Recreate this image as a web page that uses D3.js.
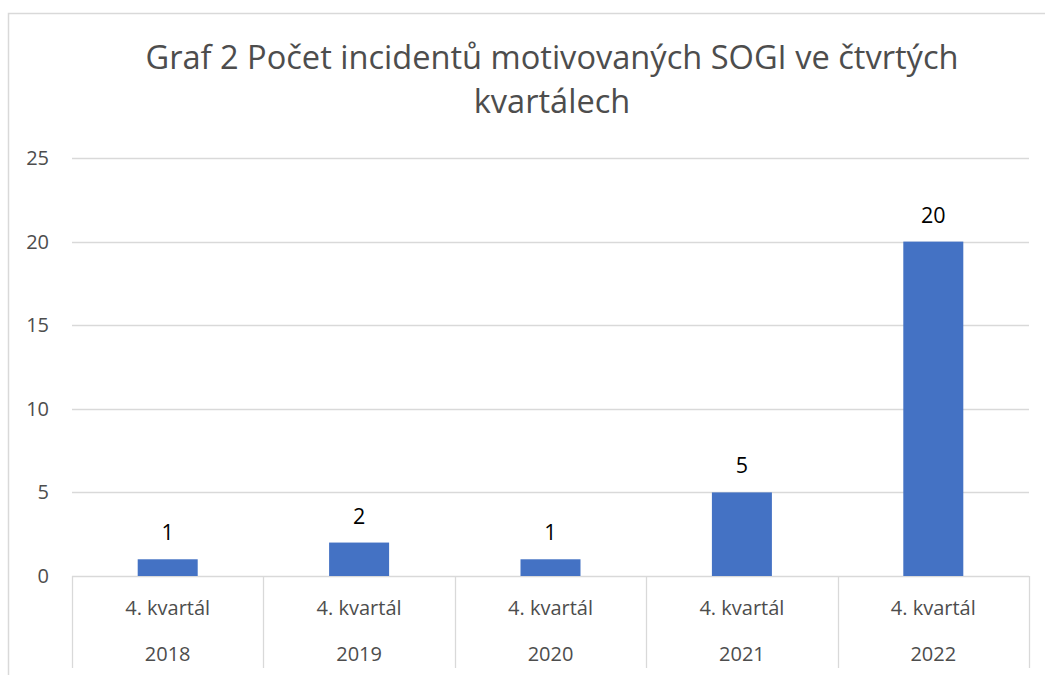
<!DOCTYPE html>
<html><head><meta charset="utf-8">
<script src="https://cdn.jsdelivr.net/npm/d3@7"></script>
<style>body{margin:0;background:#fff}svg{display:block}text{font-family:"Open Sans",sans-serif}</style>
</head><body><div id="c"></div>
<script>
const quarters = ["4. kvartál","4. kvartál","4. kvartál","4. kvartál","4. kvartál"];
const years = ["2018","2019","2020","2021","2022"];
const values = [1,2,1,5,20];
const yTicks = [0,5,10,15,20,25];
const titleLines = ["Graf 2 Počet incidentů motivovaných SOGI ve čtvrtých","kvartálech"];

const W=1045,H=675;
const svg=d3.select("#c").append("svg").attr("width",W).attr("height",H);
svg.append("rect").attr("x",8.5).attr("y",13.5).attr("width",1100).attr("height",700)
  .attr("fill","#fff").attr("stroke","#d9d9d9").attr("stroke-width",1.5);

const x=d3.scaleBand().domain(years).range([72,1029]).paddingInner(0).paddingOuter(0);
const y=d3.scaleLinear().domain([0,25]).range([576,158]);

svg.append("g").selectAll("line").data(yTicks).join("line")
  .attr("x1",72).attr("x2",1029).attr("y1",d=>Math.round(y(d))+0.5).attr("y2",d=>Math.round(y(d))+0.5)
  .attr("stroke","#d9d9d9").attr("stroke-width",1.3);

svg.append("g").selectAll("text").data(yTicks).join("text")
  .attr("x",49).attr("y",d=>y(d)+7).attr("text-anchor","end")
  .attr("fill","#4d4d4d").attr("font-size",20).text(d=>d);

const bw=60;
svg.append("g").selectAll("rect").data(values).join("rect")
  .attr("x",(d,i)=>x(years[i])+x.bandwidth()/2-bw/2).attr("width",bw)
  .attr("y",d=>y(d)).attr("height",d=>y(0)-y(d)).attr("fill","#4472c4");

svg.append("g").selectAll("text").data(values).join("text")
  .attr("x",(d,i)=>x(years[i])+x.bandwidth()/2).attr("y",d=>y(d)-19)
  .attr("text-anchor","middle").attr("fill","#000").attr("font-size",21.5).text(d=>d);

const seps=years.map(d=>x(d)).concat([x.range()[1]]);
svg.append("g").selectAll("line").data(seps).join("line")
  .attr("x1",d=>Math.round(d)+0.5).attr("x2",d=>Math.round(d)+0.5).attr("y1",576).attr("y2",668)
  .attr("stroke","#d9d9d9").attr("stroke-width",1.3);

svg.append("g").selectAll("text").data(quarters).join("text")
  .attr("x",(d,i)=>x(years[i])+x.bandwidth()/2).attr("y",615)
  .attr("text-anchor","middle").attr("fill","#4d4d4d").attr("font-size",20).text(d=>d);
svg.append("g").selectAll("text").data(years).join("text")
  .attr("x",d=>x(d)+x.bandwidth()/2).attr("y",661)
  .attr("text-anchor","middle").attr("fill","#4d4d4d").attr("font-size",20).text(d=>d);

svg.append("g").selectAll("text").data(titleLines).join("text")
  .attr("x",552).attr("y",(d,i)=>69+i*44).attr("text-anchor","middle")
  .attr("fill","#4d4d4d").attr("font-size",32.6).text(d=>d);
</script></body></html>
